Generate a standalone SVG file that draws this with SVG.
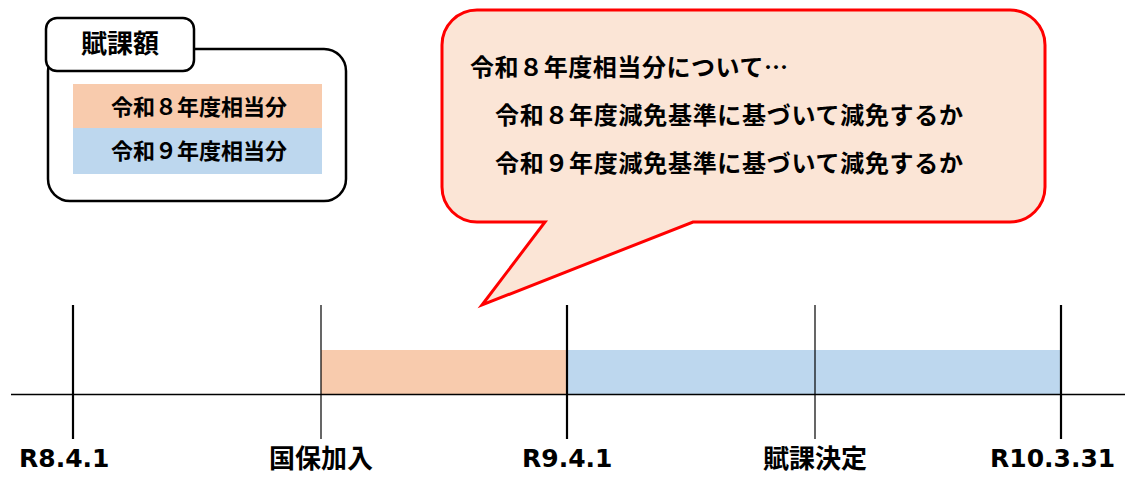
<svg xmlns="http://www.w3.org/2000/svg" width="1140" height="484" viewBox="0 0 1140 484">
  <style>
    .jp { font-family: "Noto Sans CJK JP", "Noto Sans", sans-serif; font-weight: bold; fill: #000; }
    .lat { font-family: "DejaVu Sans", "Liberation Sans", sans-serif; font-weight: bold; fill: #000; }
    .orange { fill: #F8CBAD; }
    .blue { fill: #BDD7EE; }
    .box { fill: #fff; stroke: #000; stroke-width: 2.5; }
    .tick { stroke: #000; stroke-width: 2.2; }
    .tick-thin { stroke: #000; stroke-width: 1.2; }
  </style>
  <rect width="1140" height="484" fill="#fff"/>

  <g id="legend">
    <rect class="box" x="48" y="49" width="298" height="152" rx="22"/>
    <rect class="box" x="46" y="18" width="148" height="53" rx="11"/>
    <text class="jp" x="120" y="53" font-size="26" text-anchor="middle">賦課額</text>
    <rect class="orange" x="73" y="84" width="249" height="44"/>
    <rect class="blue" x="73" y="128" width="249" height="46"/>
    <text class="jp" x="199" y="115" font-size="22" text-anchor="middle">令和８年度相当分</text>
    <text class="jp" x="199" y="159" font-size="22" text-anchor="middle">令和９年度相当分</text>
  </g>

  <g id="bubble">
    <path d="M 478 10 H 1010 A 35 35 0 0 1 1045 45 V 187 A 35 35 0 0 1 1010 222 H 693 L 482 305 L 545 222 H 477 A 35 35 0 0 1 442 187 V 45 A 35 35 0 0 1 477 10 Z" fill="#FBE5D6" stroke="#FF0000" stroke-width="3" stroke-linejoin="miter"/>
    <text class="jp" x="470" y="76" font-size="24" textLength="318" lengthAdjust="spacing">令和８年度相当分について…</text>
    <text class="jp" x="495" y="124" font-size="24" textLength="468" lengthAdjust="spacing">令和８年度減免基準に基づいて減免するか</text>
    <text class="jp" x="495" y="172" font-size="24" textLength="468" lengthAdjust="spacing">令和９年度減免基準に基づいて減免するか</text>
  </g>

  <g id="period-r8">
    <rect class="orange" x="321" y="350" width="246" height="44"/>
  </g>
  <g id="period-r9">
    <rect class="blue" x="567" y="350" width="494" height="44"/>
  </g>

  <g id="connectors">
    <line x1="11" y1="394.5" x2="1125" y2="394.5" stroke="#000" stroke-width="1.5"/>
  </g>

  <g id="mark-r8-4-1">
    <line class="tick" x1="73" y1="305" x2="73" y2="439"/>
    <text class="lat" x="19" y="467" font-size="25">R8.4.1</text>
  </g>
  <g id="mark-kokuho">
    <line class="tick-thin" x1="321" y1="305" x2="321" y2="439"/>
    <text class="jp" x="321" y="468" font-size="26" text-anchor="middle">国保加入</text>
  </g>
  <g id="mark-r9-4-1">
    <line class="tick" x1="567" y1="305" x2="567" y2="439"/>
    <text class="lat" x="522" y="467" font-size="25">R9.4.1</text>
  </g>
  <g id="mark-fuka">
    <line class="tick-thin" x1="815" y1="305" x2="815" y2="439"/>
    <text class="jp" x="815" y="468" font-size="26" text-anchor="middle">賦課決定</text>
  </g>
  <g id="mark-r10-3-31">
    <line class="tick" x1="1061" y1="305" x2="1061" y2="439"/>
    <text class="lat" x="990" y="467" font-size="25">R10.3.31</text>
  </g>
</svg>
